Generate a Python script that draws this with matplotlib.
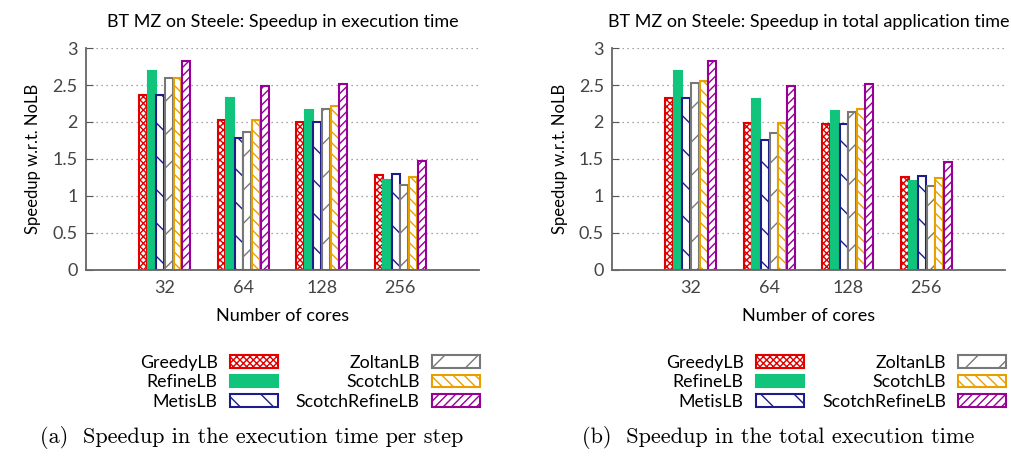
import numpy as np
import matplotlib
matplotlib.use("Agg")
import matplotlib.pyplot as plt

# ---------------------------------------------------------------------------
CORES = ["32", "64", "128", "256"]
BALANCERS = ["GreedyLB", "RefineLB", "MetisLB", "ZoltanLB", "ScotchLB", "ScotchRefineLB"]

# speedup in execution time per step (rows: balancer, cols: cores)
exec_speedup = [
    [2.37, 2.03, 2.00, 1.28],   # GreedyLB
    [2.69, 2.32, 2.16, 1.21],   # RefineLB
    [2.36, 1.78, 2.00, 1.30],   # MetisLB
    [2.59, 1.87, 2.17, 1.15],   # ZoltanLB
    [2.59, 2.02, 2.21, 1.25],   # ScotchLB
    [2.83, 2.48, 2.51, 1.47],   # ScotchRefineLB
]
# speedup in total application time
total_speedup = [
    [2.32, 1.99, 1.97, 1.26],
    [2.69, 2.31, 2.15, 1.20],
    [2.32, 1.75, 1.97, 1.27],
    [2.53, 1.85, 2.14, 1.13],
    [2.55, 1.99, 2.18, 1.24],
    [2.82, 2.48, 2.51, 1.46],
]

TITLES = ["BT MZ on Steele: Speedup in execution time",
          "BT MZ on Steele: Speedup in total application time"]
CAPTIONS = ["(a)  Speedup in the execution time per step",
            "(b)  Speedup in the total execution time"]

# styles: (edge colour, face colour, hatch)
STYLES = [
    ("#e00000", "white", "xxxxx"),
    ("#10c47c", "#10c47c", None),
    ("#1c1c8c", "white", "\\"),
    ("#787878", "white", "/"),
    ("#e8a000", "white", "\\\\\\"),
    ("#960096", "white", "////"),
]

plt.rcParams["font.family"] = ["Lato", "DejaVu Sans"]
plt.rcParams["hatch.linewidth"] = 1.0

fig = plt.figure(figsize=(10.12, 4.62), dpi=100)
ax_pos = [[0.085, 0.416, 0.388, 0.48], [0.605, 0.416, 0.388, 0.48]]

x = np.arange(1, len(CORES) + 1)
w = 0.11
for k, data in enumerate([exec_speedup, total_speedup]):
    ax = fig.add_axes(ax_pos[k])
    handles = []
    for i, name in enumerate(BALANCERS):
        ec, fc, hatch = STYLES[i]
        b = ax.bar(x + (i - 2.5) * w, data[i], w * 0.92, facecolor=fc,
                   edgecolor=ec, hatch=hatch, linewidth=1.5, label=name)
        handles.append(b)
    ax.set_xlim(0, 5)
    ax.set_ylim(0, 3)
    ax.set_xticks(x)
    ax.set_xticklabels(CORES)
    ax.set_yticks(np.arange(0, 3.01, 0.5))
    ax.set_yticklabels(["0", "0.5", "1", "1.5", "2", "2.5", "3"])
    ax.tick_params(axis="x", length=0, labelsize=13, colors="#444444", pad=7)
    ax.tick_params(axis="y", direction="in", length=5, labelsize=13,
                   colors="#555555", labelcolor="#444444", pad=6)
    ax.yaxis.grid(True, linestyle=(0, (1, 3)), color="#888888", linewidth=0.9)
    ax.set_axisbelow(True)
    for s in ["top", "right"]:
        ax.spines[s].set_visible(False)
    for s in ["left", "bottom"]:
        ax.spines[s].set_color("#666666")
        ax.spines[s].set_linewidth(1.3)
    ax.set_title(TITLES[k], fontsize=13, pad=15)
    ax.set_xlabel("Number of cores", fontsize=13, labelpad=9)
    ax.set_ylabel("Speedup w.r.t. NoLB", fontsize=12, labelpad=8)

    ax.legend(handles, BALANCERS,
              ncol=2, markerfirst=False, frameon=False, fontsize=12.8,
              loc="upper center", bbox_to_anchor=(0.57, -0.31),
              handlelength=2.7, handleheight=0.7, handletextpad=0.7,
              columnspacing=1.0, labelspacing=0.2)
    fig.text(ax_pos[k][0] + ax_pos[k][2] / 2 - 0.03, 0.054, CAPTIONS[k],
             ha="center", va="center", fontsize=16, family=["cmr10", "DejaVu Serif"])

fig.savefig("out.png", dpi=100)
